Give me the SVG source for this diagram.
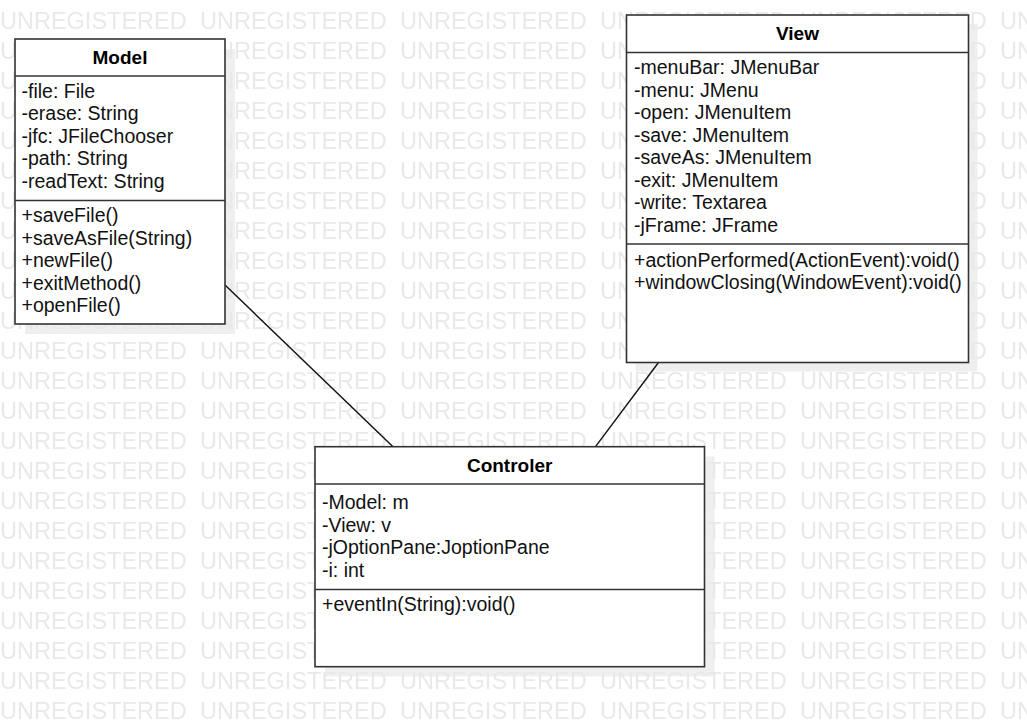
<svg xmlns="http://www.w3.org/2000/svg" width="1027" height="727" viewBox="0 0 1027 727">
<style>
.box{fill:#ffffff;stroke:#333333;stroke-width:1.6}
.sh{fill:#efefef}
.div{stroke:#333333;stroke-width:1.4}
.title{font-family:"Liberation Sans",Arial,sans-serif;font-size:19px;font-weight:bold;fill:#000;text-anchor:middle}
.t{font-family:"Liberation Sans",Arial,sans-serif;font-size:19.5px;fill:#111}
.wm{font-family:"Liberation Sans",Arial,sans-serif;font-size:23.5px;fill:#e9e9e9}
.conn{stroke:#111;stroke-width:1.4;fill:none}
</style>
<defs>
<pattern id="wmp" patternUnits="userSpaceOnUse" x="0" y="0" width="200" height="30">
<text class="wm" x="0" y="29">UNREGISTERED</text>
</pattern>
</defs>
<rect width="1027" height="727" fill="#ffffff"/>
<g id="shadows">
<rect class="sh" x="25" y="49" width="210" height="285"/>
<rect class="sh" x="635.5" y="24" width="342" height="347.5"/>
<rect class="sh" x="325" y="456.5" width="389.5" height="220"/>
</g>
<rect id="watermark" width="1027" height="727" fill="url(#wmp)"/>
<g id="connectors">
<line class="conn" x1="225" y1="285" x2="393" y2="446.7"/>
<line class="conn" x1="658.5" y1="362.5" x2="595.5" y2="446.7"/>
</g>
<g id="model">
<rect class="box" x="15" y="39" width="210" height="285"/>
<line class="div" x1="15" y1="76" x2="225" y2="76"/>
<line class="div" x1="15" y1="200.5" x2="225" y2="200.5"/>
<text class="title" x="120" y="64">Model</text>
<text class="t" x="21.5" y="97.5">-file: File</text>
<text class="t" x="21.5" y="120">-erase: String</text>
<text class="t" x="21.5" y="142.5">-jfc: JFileChooser</text>
<text class="t" x="21.5" y="165">-path: String</text>
<text class="t" x="21.5" y="187.5">-readText: String</text>
<text class="t" x="21.5" y="222">+saveFile()</text>
<text class="t" x="21.5" y="244.5">+saveAsFile(String)</text>
<text class="t" x="21.5" y="267">+newFile()</text>
<text class="t" x="21.5" y="289.5">+exitMethod()</text>
<text class="t" x="21.5" y="312">+openFile()</text>
</g>
<g id="view">
<rect class="box" x="626.5" y="15" width="342" height="347.5"/>
<line class="div" x1="626.5" y1="52.5" x2="968.5" y2="52.5"/>
<line class="div" x1="626.5" y1="244" x2="968.5" y2="244"/>
<text class="title" x="797.5" y="40">View</text>
<text class="t" x="634" y="74">-menuBar: JMenuBar</text>
<text class="t" x="634" y="96.5">-menu: JMenu</text>
<text class="t" x="634" y="119">-open: JMenuItem</text>
<text class="t" x="634" y="141.5">-save: JMenuItem</text>
<text class="t" x="634" y="164">-saveAs: JMenuItem</text>
<text class="t" x="634" y="186.5">-exit: JMenuItem</text>
<text class="t" x="634" y="209">-write: Textarea</text>
<text class="t" x="634" y="231.5">-jFrame: JFrame</text>
<text class="t" x="634" y="266.5">+actionPerformed(ActionEvent):void()</text>
<text class="t" x="634" y="289">+windowClosing(WindowEvent):void()</text>
</g>
<g id="controler">
<rect class="box" x="315" y="446.7" width="389.5" height="220"/>
<line class="div" x1="315" y1="484" x2="704.5" y2="484"/>
<line class="div" x1="315" y1="589.5" x2="704.5" y2="589.5"/>
<text class="title" x="509.7" y="471.5">Controler</text>
<text class="t" x="322" y="509">-Model: m</text>
<text class="t" x="322" y="531.5">-View: v</text>
<text class="t" x="322" y="554">-jOptionPane:JoptionPane</text>
<text class="t" x="322" y="576.5">-i: int</text>
<text class="t" x="322" y="610.5">+eventIn(String):void()</text>
</g>
</svg>
